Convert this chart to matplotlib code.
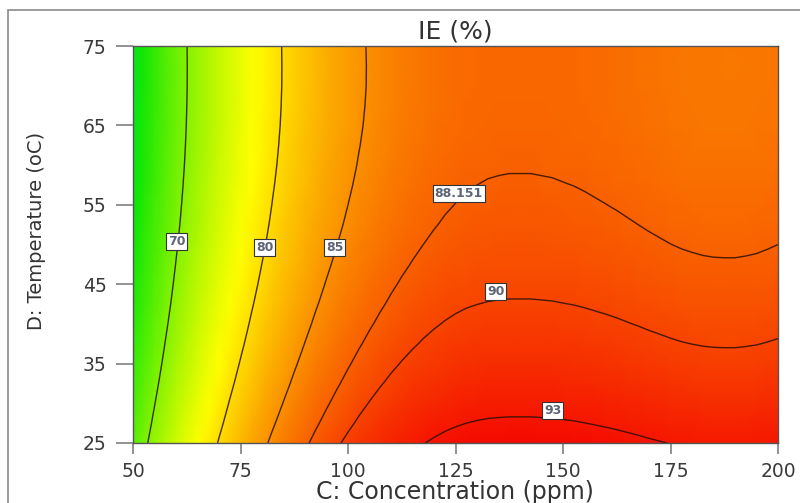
import numpy as np
import matplotlib
matplotlib.use("Agg")
import matplotlib.pyplot as plt
from matplotlib.colors import LinearSegmentedColormap, Normalize
from matplotlib.patches import Rectangle

# --- data ---
# C: Concentration (ppm) grid
conc = [50, 52.5, 55, 57.5, 60, 62.5, 65, 67.5, 70, 72.5, 75, 77.5, 80, 82.5, 85, 87.5,
        90, 92.5, 95, 97.5, 100, 102.5, 105, 107.5, 110, 112.5, 115, 117.5, 120, 122.5,
        125, 127.5, 130, 132.5, 135, 137.5, 140, 142.5, 145, 147.5, 150, 152.5, 155,
        157.5, 160, 162.5, 165, 167.5, 170, 172.5, 175, 177.5, 180, 182.5, 185, 187.5,
        190, 192.5, 195, 197.5, 200]
# IE (%) along concentration at D = 25 oC
ie_at_25C = [67.40, 69.32, 71.15, 72.90, 74.55, 76.10, 77.55, 78.90, 80.17, 81.36,
             82.47, 83.52, 84.50, 85.43, 86.30, 87.12, 87.88, 88.58, 89.22, 89.81,
             90.35, 90.85, 91.30, 91.71, 92.08, 92.41, 92.70, 92.96, 93.18, 93.37,
             93.52, 93.64, 93.72, 93.78, 93.81, 93.83, 93.83, 93.83, 93.81, 93.79,
             93.75, 93.71, 93.65, 93.58, 93.51, 93.43, 93.34, 93.25, 93.15, 93.06,
             92.97, 92.89, 92.83, 92.78, 92.75, 92.74, 92.74, 92.77, 92.81, 92.88, 92.96]
# D: Temperature (oC) grid
temp = [25, 27.5, 30, 32.5, 35, 37.5, 40, 42.5, 45, 47.5, 50, 52.5, 55, 57.5,
        60, 62.5, 65, 67.5, 70, 72.5, 75]
# change of IE (%) relative to 25 oC
temp_shift = [0, -0.64, -1.24, -1.81, -2.34, -2.84, -3.30, -3.73, -4.12, -4.48,
              -4.81, -5.10, -5.35, -5.57, -5.76, -5.91, -6.03, -6.11, -6.16, -6.17, -6.15]
# contour levels shown
levels = [70, 80, 85, 88.151, 90, 93]

xticks = [50, 75, 100, 125, 150, 175, 200]
yticks = [25, 35, 45, 55, 65, 75]

# --- styling / positions ---
label_pos = [(60.1, 50.4), (80.6, 49.6), (96.9, 49.6), (125.7, 56.4), (134.4, 44.1), (147.6, 29.1)]

Z = np.array(temp_shift)[:, None] + np.array(ie_at_25C)[None, :]

vmin, vmax = 46.5, 94.0
def frac(v):
    return (v - vmin) / (vmax - vmin)

cmap = LinearSegmentedColormap.from_list(
    "de",
    [(0.0, (0.0, 0.0, 1.0)),
     (frac(54.3), (0.0, 0.9, 0.9)),
     (frac(62.0), (0.02, 0.90, 0.02)),
     (frac(77.8), (1.0, 1.0, 0.0)),
     (1.0, (0.96, 0.03, 0.0))])
norm = Normalize(vmin, vmax)

W, H = 800, 503
fig = plt.figure(figsize=(W / 100, H / 100), dpi=100)
ax = fig.add_axes([133 / W, 1 - 443 / H, (778 - 133) / W, (443 - 46) / H])

ax.pcolormesh(conc, temp, Z, shading="gouraud", cmap=cmap, norm=norm, rasterized=True)
cs = ax.contour(conc, temp, Z, levels=levels, colors="#2a1000", linewidths=1.0, alpha=0.85)

for lev, (lx, ly) in zip(levels, label_pos):
    ax.text(lx, ly, f"{lev:g}", ha="center", va="center", fontsize=9,
            fontweight="bold", color="#5d6475", zorder=6,
            bbox=dict(boxstyle="square,pad=0.15", fc="white", ec="#333333", lw=0.8))

ax.set_xlim(50, 200)
ax.set_ylim(25, 75)
ax.set_xticks(xticks)
ax.set_yticks(yticks)
ax.tick_params(axis="both", direction="out", color="#8a8a8a", width=1.3,
               labelsize=13.5, labelcolor="#3a3a3a")
ax.tick_params(axis="x", length=8, pad=6)
ax.tick_params(axis="y", length=12, pad=7)
for s in ax.spines.values():
    s.set_color("#555555")
    s.set_linewidth(1.0)

fig.text(455 / W, 1 - 38 / H, "IE (%)", ha="center", va="baseline", fontsize=18, color="#333333")
fig.text(455 / W, 1 - 499 / H, "C: Concentration (ppm)", ha="center", va="baseline",
         fontsize=17, color="#333333")
fig.text(37 / W, 1 - 231 / H, "D: Temperature (oC)", rotation=90, ha="center", va="center",
         fontsize=14, color="#333333")

fig.add_artist(Rectangle((8 / W, -0.1), 1.1, 1.1 - 10 / H, transform=fig.transFigure,
                         fill=False, ec="#8a8a8a", lw=1.2))

fig.savefig("out.png", dpi=100)
